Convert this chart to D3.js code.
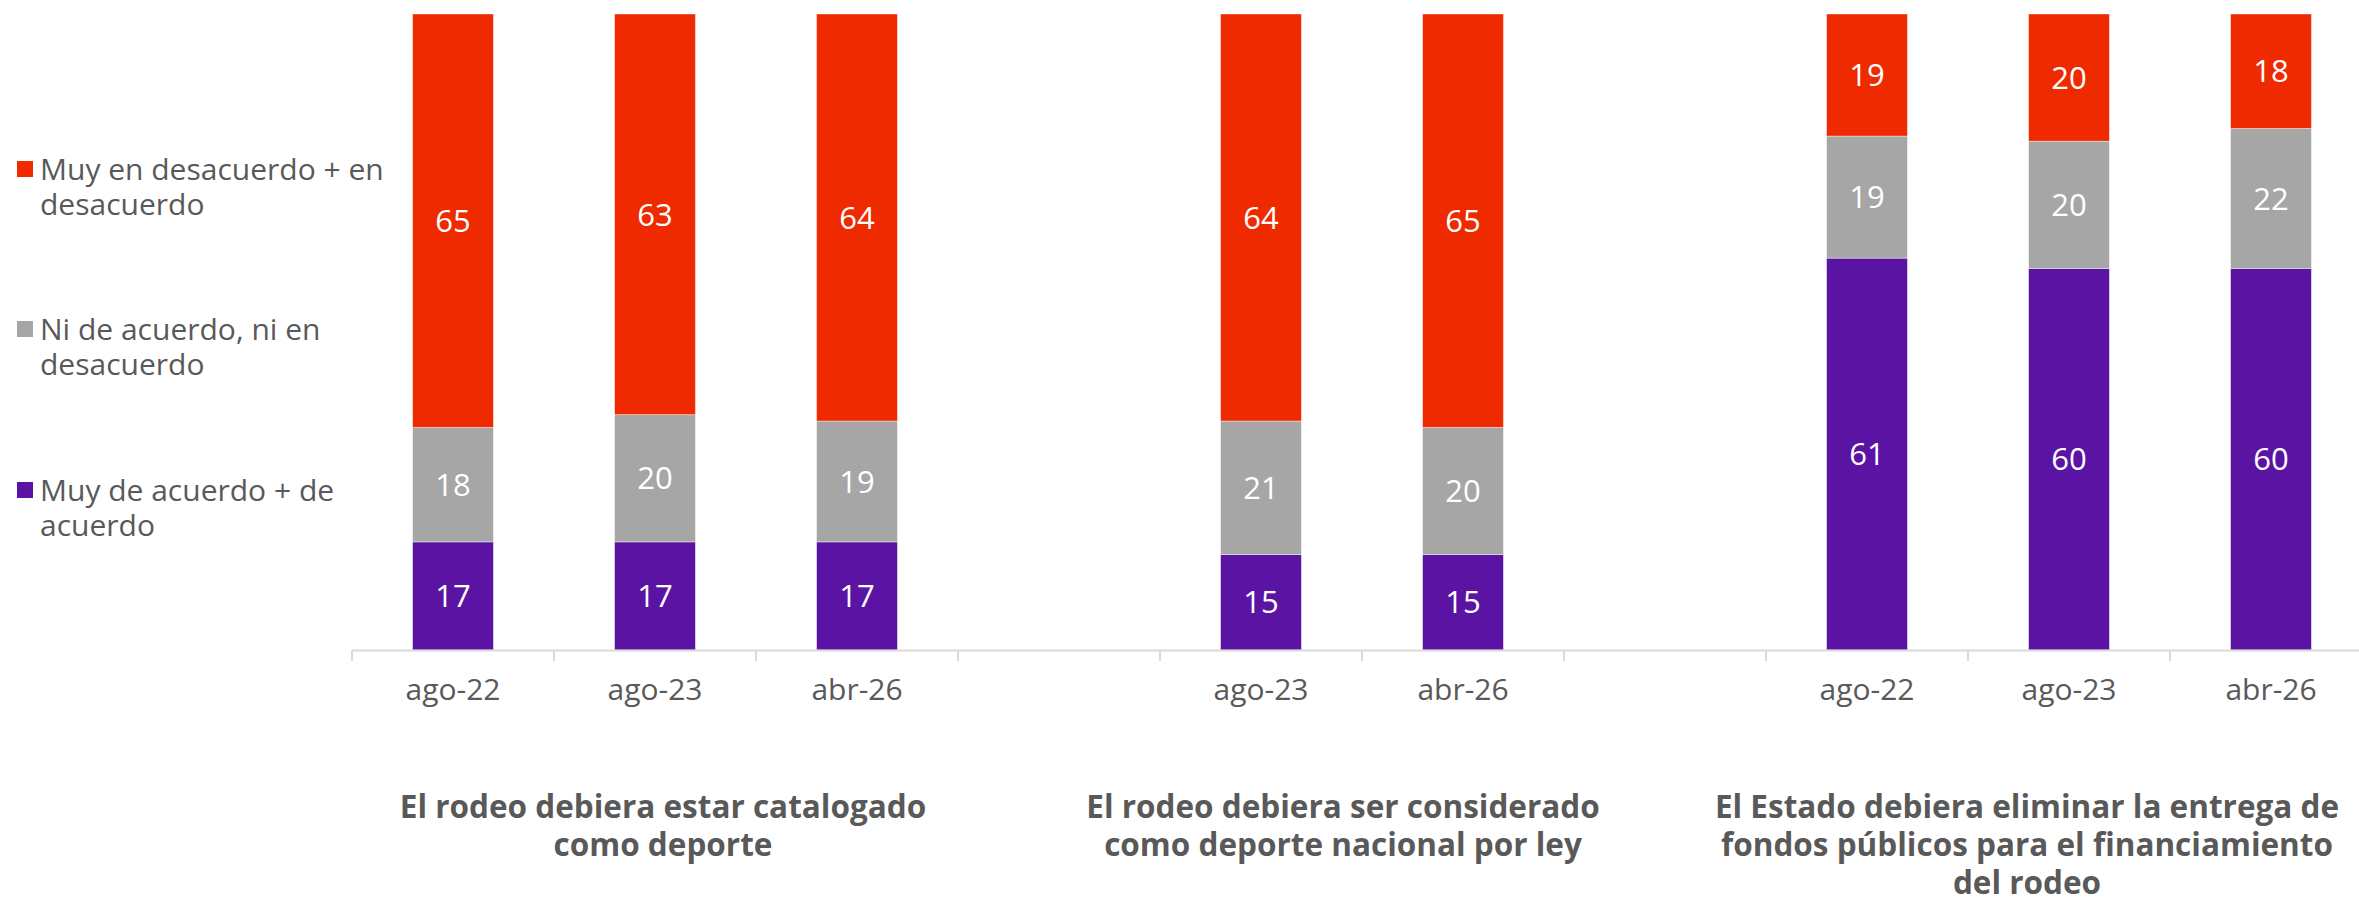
<!DOCTYPE html>
<html>
<head>
<meta charset="utf-8">
<script src="https://cdn.jsdelivr.net/npm/d3@7"></script>
<style>
  html, body { margin: 0; padding: 0; background: #fff; }
  svg { display: block; font-family: "Open Sans", sans-serif; }
</style>
</head>
<body>
<svg></svg>
<script>
// datos (categorías vacías = separadores entre preguntas)
const categories = ["ago-22", "ago-23", "abr-26", "", "ago-23", "abr-26", "", "ago-22", "ago-23", "abr-26"];
const acuerdo = [17, 17, 17, null, 15, 15, null, 61, 60, 60];
const neutral = [18, 20, 19, null, 21, 20, null, 19, 20, 22];
const desacuerdo = [65, 63, 64, null, 64, 65, null, 19, 20, 18];

const legendLines = [
  ["Muy en desacuerdo + en", "desacuerdo"],
  ["Ni de acuerdo, ni en", "desacuerdo"],
  ["Muy de acuerdo + de", "acuerdo"],
];
const titles = [
  ["El rodeo debiera estar catalogado", "como deporte"],
  ["El rodeo debiera ser considerado", "como deporte nacional por ley"],
  ["El Estado debiera eliminar la entrega de", "fondos públicos para el financiamiento", "del rodeo"],
];
const colors = ["#5a13a2", "#a6a6a6", "#f02a00"];

const W = 2359, H = 903;
const svg = d3.select("svg").attr("width", W).attr("height", H);

// filas para d3.stack
const rows = categories.map((c, i) => ({
  key: "c" + i,
  label: c,
  s0: acuerdo[i],
  s1: neutral[i],
  s2: desacuerdo[i],
}));

const x = d3.scaleBand()
  .domain(rows.map((d) => d.key))
  .range([352, 2372])
  .paddingInner(0.6)
  .paddingOuter(0.3);

const y = d3.scaleLinear().domain([0, 1]).range([650, 14]);

const stack = d3.stack().keys(["s0", "s1", "s2"]).offset(d3.stackOffsetExpand);
const stacked = stack(rows.filter((d) => d.s0 != null));

// barras
const layer = svg.selectAll(".layer")
  .data(stacked)
  .join("g")
  .attr("class", "layer")
  .attr("fill", (d, i) => colors[i]);

layer.selectAll("rect")
  .data((d) => d)
  .join("rect")
  .attr("x", (d) => x(d.data.key))
  .attr("width", x.bandwidth())
  .attr("y", (d) => y(d[1]))
  .attr("height", (d) => y(d[0]) - y(d[1]))
  .attr("stroke", "#fff")
  .attr("stroke-opacity", 0.5)
  .attr("stroke-width", 0.8);

// etiquetas de valor
layer.selectAll("text")
  .data((d) => d.map((v) => ({ v, key: d.key })))
  .join("text")
  .attr("x", (d) => x(d.v.data.key) + x.bandwidth() / 2)
  .attr("y", (d) => (y(d.v[0]) + y(d.v[1])) / 2)
  .attr("dy", "0.36em")
  .attr("text-anchor", "middle")
  .attr("fill", "#fff")
  .style("font-size", "31px")
  .text((d) => d.v.data[d.key]);

// eje x
const axisG = svg.append("g").attr("transform", "translate(0,650)");
axisG.call(d3.axisBottom(x).tickSize(0).tickFormat((k) => rows.find((r) => r.key === k).label));
axisG.select(".domain").attr("stroke", "#d9d9d9").attr("stroke-width", 2);
axisG.selectAll(".tick text")
  .attr("fill", "#595959")
  .attr("dy", 0)
  .attr("y", 50)
  .style("font-size", "30px")
  .style("font-family", "Open Sans, sans-serif");

// separadores del eje en los límites de cada categoría
const bounds = d3.range(rows.length + 1).map((i) => x.range()[0] + i * x.step());
axisG.selectAll(".sep")
  .data(bounds)
  .join("line")
  .attr("class", "sep")
  .attr("x1", (d) => d)
  .attr("x2", (d) => d)
  .attr("y1", 0)
  .attr("y2", 11)
  .attr("stroke", "#d9d9d9")
  .attr("stroke-width", 2);

// leyenda
const legend = svg.append("g").attr("class", "legend");
const legendY = [161, 321, 482];
const legendColor = [colors[2], colors[1], colors[0]];
legendLines.forEach((lines, i) => {
  const g = legend.append("g").attr("transform", `translate(17,${legendY[i]})`);
  g.append("rect").attr("width", 16).attr("height", 16).attr("fill", legendColor[i]);
  g.append("text")
    .attr("x", 23)
    .attr("y", 19)
    .attr("fill", "#595959")
    .style("font-size", "30px")
    .selectAll("tspan")
    .data(lines)
    .join("tspan")
    .attr("x", 23)
    .attr("dy", (d, j) => (j === 0 ? 0 : 35))
    .text((d) => d);
});

// títulos de cada pregunta
const titleX = [663, 1343, 2027];
titles.forEach((lines, i) => {
  svg.append("text")
    .attr("text-anchor", "middle")
    .attr("fill", "#595959")
    .attr("font-weight", "bold")
    .style("font-size", "31.5px")
    .selectAll("tspan")
    .data(lines)
    .join("tspan")
    .attr("x", titleX[i])
    .attr("y", (d, j) => 818 + j * 38)
    .text((d) => d);
});
</script>
</body>
</html>
